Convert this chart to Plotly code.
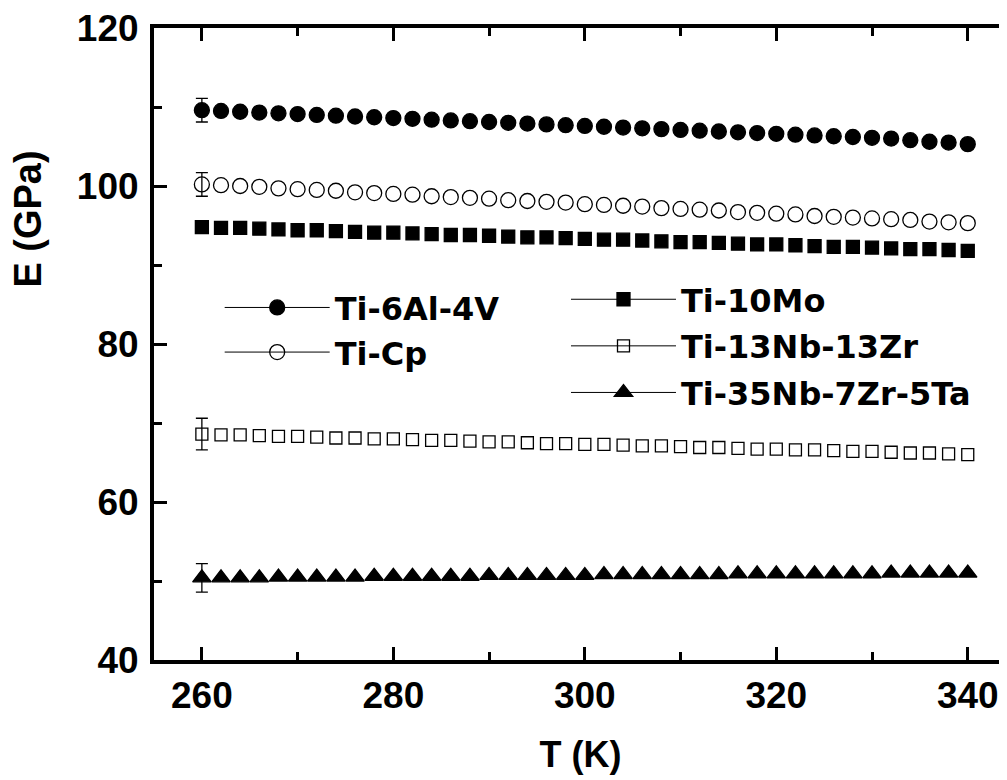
import plotly.graph_objects as go

T = [260 + 2 * i for i in range(41)]

ti6al4v = [109.6,109.5,109.4,109.3,109.2,109.1,109.0,108.9,108.8,108.7,108.6,108.5,108.4,108.3,108.2,108.1,108.0,107.9,107.8,107.7,107.6,107.5,107.4,107.3,107.2,107.1,107.0,106.9,106.8,106.7,106.6,106.5,106.4,106.3,106.2,106.1,106.0,105.8,105.6,105.5,105.3]
ticp = [100.2,100.1,100.0,99.9,99.7,99.6,99.5,99.4,99.2,99.1,99.0,98.9,98.7,98.6,98.5,98.4,98.2,98.1,98.0,97.9,97.7,97.6,97.5,97.4,97.2,97.1,97.0,96.9,96.7,96.6,96.5,96.4,96.2,96.1,96.0,95.9,95.8,95.7,95.5,95.4,95.3]
ti10mo = [94.8,94.7,94.7,94.6,94.5,94.4,94.4,94.3,94.2,94.1,94.1,94.0,93.9,93.8,93.8,93.7,93.6,93.5,93.5,93.4,93.3,93.2,93.2,93.1,93.0,92.9,92.9,92.8,92.7,92.6,92.6,92.5,92.4,92.3,92.3,92.2,92.1,92.0,92.0,91.9,91.8]
ti13nb13zr = [68.6,68.5,68.5,68.4,68.3,68.3,68.2,68.1,68.1,68.0,68.0,67.9,67.8,67.8,67.7,67.6,67.6,67.5,67.4,67.4,67.3,67.3,67.2,67.1,67.1,67.0,66.9,66.9,66.8,66.7,66.7,66.6,66.6,66.5,66.4,66.4,66.3,66.2,66.2,66.1,66.0]
ti35nb = [50.4,50.4,50.4,50.4,50.5,50.5,50.5,50.5,50.5,50.6,50.6,50.6,50.6,50.6,50.6,50.7,50.7,50.7,50.7,50.7,50.7,50.8,50.8,50.8,50.8,50.8,50.8,50.8,50.9,50.9,50.9,50.9,50.9,50.9,50.9,50.9,51.0,51.0,51.0,51.0,51.0]

# error bar (only at first temperature)
err_first = [1.5, 1.5, 0.8, 2.0, 1.8]

names = ["Ti-6Al-4V", "Ti-Cp", "Ti-10Mo", "Ti-13Nb-13Zr", "Ti-35Nb-7Zr-5Ta"]
series = [ti6al4v, ticp, ti10mo, ti13nb13zr, ti35nb]
symbols = ["circle", "circle-open", "square", "square-open", "triangle-up"]
sizes = [15, 15, 13, 12, 16]
legends = ["legend", "legend", "legend2", "legend2", "legend2"]

fig = go.Figure()
for name, ys, sym, sz, err, lg in zip(names, series, symbols, sizes, err_first, legends):
    fig.add_trace(go.Scatter(
        x=T, y=ys, mode="markers", showlegend=False,
        marker=dict(symbol=sym, size=sz, color="black", line=dict(color="black", width=1.3)),
    ))
    # error bar on first point
    fig.add_trace(go.Scatter(
        x=T[:1], y=ys[:1], mode="markers", showlegend=False,
        marker=dict(size=1, color="rgba(0,0,0,0)"),
        error_y=dict(type="data", array=[err], color="black", thickness=1.3, width=6),
    ))
    # legend entry
    fig.add_trace(go.Scatter(
        x=[None], y=[None], mode="lines+markers", name=name, legend=lg, legendgroup=name,
        line=dict(color="black", width=1),
        marker=dict(symbol=sym, size=sz, color="black", line=dict(color="black", width=1.3)),
    ))

font_fam = "Liberation Sans"
leg_font = dict(family="DejaVu Sans", size=32, color="black", weight="bold")
axis_common = dict(
    showgrid=False, zeroline=False, showline=True, linecolor="black", linewidth=4,
    ticks="inside", ticklen=13, tickwidth=3, tickcolor="black", ticklabeloverflow="allow",
    tickfont=dict(family=font_fam, size=37, color="black", weight="bold"),
)

fig.update_layout(
    width=999, height=772,
    margin=dict(l=146, r=0, t=17, b=120, pad=0),
    plot_bgcolor="white", paper_bgcolor="white",
    xaxis=dict(
        range=[255, 344.1], dtick=20, tick0=260, mirror="ticks", ticklabelstandoff=0,
        minor=dict(dtick=10, tick0=260, ticks="inside", ticklen=8, tickwidth=3, tickcolor="black"),
        title=dict(text="T (K)", font=dict(family=font_fam, size=36, color="black", weight="bold"), standoff=27),
        **axis_common,
    ),
    yaxis=dict(
        range=[40, 120], dtick=20, tick0=40, mirror=False, ticklabelstandoff=4,
        minor=dict(dtick=10, tick0=40, ticks="inside", ticklen=8, tickwidth=3, tickcolor="black"),
        **axis_common,
    ),
    yaxis2=dict(
        range=[40, 120], dtick=20, tick0=40, overlaying="y", side="right", anchor="x",
        showgrid=False, zeroline=False, showline=False, showticklabels=False,
        ticks="inside", ticklen=6, tickwidth=3, tickcolor="black",
    ),
    legend=dict(
        x=0.077, y=0.601, xanchor="left", yanchor="top", bgcolor="rgba(0,0,0,0)",
        font=leg_font, itemwidth=105, tracegroupgap=0, itemsizing="trace",
    ),
    legend2=dict(
        x=0.483, y=0.614, xanchor="left", yanchor="top", bgcolor="rgba(0,0,0,0)",
        font=leg_font, itemwidth=105, tracegroupgap=2, itemsizing="trace",
    ),
    annotations=[dict(
        text="E (GPa)", textangle=-90, showarrow=False,
        xref="paper", yref="paper", x=-0.148, y=0.698, xanchor="center", yanchor="middle",
        font=dict(family=font_fam, size=38, color="black", weight="bold"),
    )],
)

fig.write_html("out.html")
